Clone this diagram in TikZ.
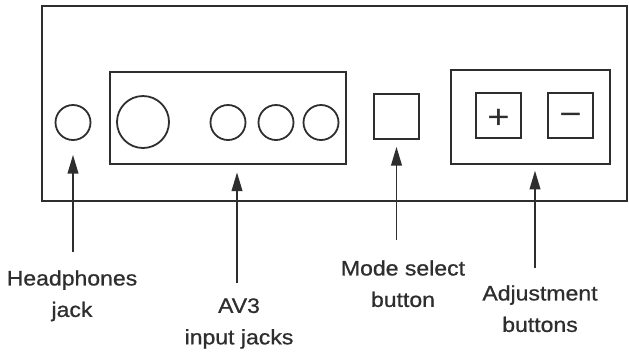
\documentclass[tikz,border=0pt]{standalone}
\usepackage{fontspec}
\newfontfamily\lblfont{Liberation Sans}[FakeStretch=1.1,FakeBold=0.8]
\newfontfamily\signfont{Liberation Sans}[FakeStretch=1.15]
\usetikzlibrary{arrows.meta}
\definecolor{ink}{HTML}{2E2E2E}
\tikzset{
  frame/.style={draw=ink, line width=1.6pt, rectangle, inner sep=0pt},
  jack/.style={draw=ink, line width=1.35pt, circle, inner sep=0pt, minimum size=#1},
  btn/.style={draw=ink, line width=1.5pt, rectangle, inner sep=0pt, minimum size=33.75pt,
              text height=0pt, text depth=0pt,
              font=\signfont\fontsize{25}{25}\selectfont, text=ink},
  lbl/.style={align=center, anchor=north, inner sep=0pt, text=ink,
              font=\lblfont\fontsize{15.7}{23.6}\selectfont},
  arr/.style={draw=ink, line width=1.3pt, -{Triangle[length=14pt,width=8pt]}}
}
\begin{document}
\begin{tikzpicture}[x=0.75pt,y=-0.75pt]
\useasboundingbox (0,0) rectangle (629,355);
% outer panel
\node[frame, minimum width=438.75pt, minimum height=146.25pt] (panel) at (334.5,103.5) {};
% AV3 box and jacks
\node[frame, minimum width=177pt, minimum height=69pt] (avbox) at (228,118) {};
\node[jack=26.25pt] (phones) at (73,122.5) {};
\node[jack=39pt] (big) at (143,122) {};
\node[jack=26.25pt] (j1) at (228,122.5) {};
\node[jack=26.25pt] (j2) at (276,122.5) {};
\node[jack=26.25pt] (j3) at (321,122.5) {};
% mode select
\node[btn] (mode) at (396.5,116) {};
% adjustment
\node[frame, minimum width=119.25pt, minimum height=70.5pt] (adjbox) at (530.5,117) {};
\node[btn] (plus) at (498.5,115.5) {\raisebox{-10pt}{+}};
\node[btn] (minus) at (570.5,115.5) {\raisebox{-7.5pt}{\char"2212}};
% labels
\node[lbl] (lblphones) at (72,270) {Headphones\\jack};
\node[lbl] (lblav) at (239,298) {AV3\\input jacks};
\node[lbl] (lblmode) at (403,260) {Mode select\\button};
\node[lbl] (lbladj) at (540,285) {Adjustment\\buttons};
% arrows
\coordinate (adjtip) at (535,164);
\draw[arr, shorten <=13.5pt, shorten >=10.5pt] (phones.south |- lblphones.north) -- (phones.south);
\draw[arr, shorten <=11pt, shorten >=5.5pt] (lblav.north -| 237,0) -- (avbox.south -| 237,0);
\draw[arr, shorten <=15pt, shorten >=5.5pt] (mode.south |- lblmode.north) -- (mode.south);
\draw[arr, shorten <=12.75pt, shorten >=5pt] (adjtip |- lbladj.north) -- (adjtip);
\end{tikzpicture}
\end{document}
